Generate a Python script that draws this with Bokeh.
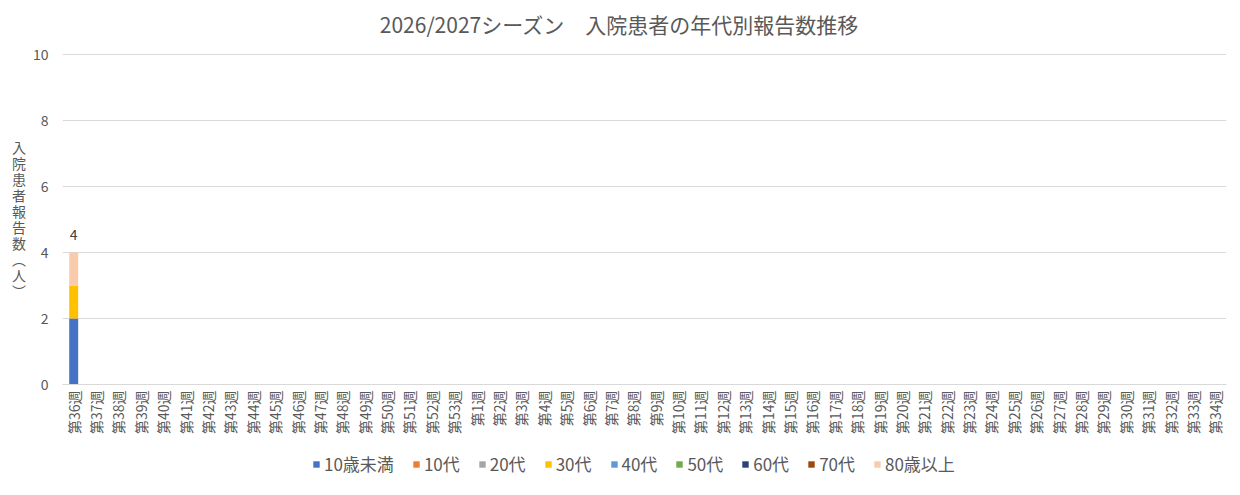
from bokeh.plotting import figure
from bokeh.models import ColumnDataSource, FactorRange, Legend, Label
from bokeh.layouts import column
from bokeh.embed import file_html
from bokeh.resources import INLINE
from bokeh.core.properties import value

weeks = ["第36週", "第37週", "第38週", "第39週", "第40週", "第41週", "第42週", "第43週",
         "第44週", "第45週", "第46週", "第47週", "第48週", "第49週", "第50週", "第51週",
         "第52週", "第53週", "第1週", "第2週", "第3週", "第4週", "第5週", "第6週", "第7週",
         "第8週", "第9週", "第10週", "第11週", "第12週", "第13週", "第14週", "第15週",
         "第16週", "第17週", "第18週", "第19週", "第20週", "第21週", "第22週", "第23週",
         "第24週", "第25週", "第26週", "第27週", "第28週", "第29週", "第30週", "第31週",
         "第32週", "第33週", "第34週"]

age_groups = ["10歳未満", "10代", "20代", "30代", "40代", "50代", "60代", "70代", "80歳以上"]

under10 = [2, 0, 0, 0, 0, 0, 0, 0, 0, 0, 0, 0, 0, 0, 0, 0, 0, 0, 0, 0, 0, 0, 0, 0, 0, 0,
           0, 0, 0, 0, 0, 0, 0, 0, 0, 0, 0, 0, 0, 0, 0, 0, 0, 0, 0, 0, 0, 0, 0, 0, 0, 0]
age10s = [0, 0, 0, 0, 0, 0, 0, 0, 0, 0, 0, 0, 0, 0, 0, 0, 0, 0, 0, 0, 0, 0, 0, 0, 0, 0,
          0, 0, 0, 0, 0, 0, 0, 0, 0, 0, 0, 0, 0, 0, 0, 0, 0, 0, 0, 0, 0, 0, 0, 0, 0, 0]
age20s = [0, 0, 0, 0, 0, 0, 0, 0, 0, 0, 0, 0, 0, 0, 0, 0, 0, 0, 0, 0, 0, 0, 0, 0, 0, 0,
          0, 0, 0, 0, 0, 0, 0, 0, 0, 0, 0, 0, 0, 0, 0, 0, 0, 0, 0, 0, 0, 0, 0, 0, 0, 0]
age30s = [1, 0, 0, 0, 0, 0, 0, 0, 0, 0, 0, 0, 0, 0, 0, 0, 0, 0, 0, 0, 0, 0, 0, 0, 0, 0,
          0, 0, 0, 0, 0, 0, 0, 0, 0, 0, 0, 0, 0, 0, 0, 0, 0, 0, 0, 0, 0, 0, 0, 0, 0, 0]
age40s = [0, 0, 0, 0, 0, 0, 0, 0, 0, 0, 0, 0, 0, 0, 0, 0, 0, 0, 0, 0, 0, 0, 0, 0, 0, 0,
          0, 0, 0, 0, 0, 0, 0, 0, 0, 0, 0, 0, 0, 0, 0, 0, 0, 0, 0, 0, 0, 0, 0, 0, 0, 0]
age50s = [0, 0, 0, 0, 0, 0, 0, 0, 0, 0, 0, 0, 0, 0, 0, 0, 0, 0, 0, 0, 0, 0, 0, 0, 0, 0,
          0, 0, 0, 0, 0, 0, 0, 0, 0, 0, 0, 0, 0, 0, 0, 0, 0, 0, 0, 0, 0, 0, 0, 0, 0, 0]
age60s = [0, 0, 0, 0, 0, 0, 0, 0, 0, 0, 0, 0, 0, 0, 0, 0, 0, 0, 0, 0, 0, 0, 0, 0, 0, 0,
          0, 0, 0, 0, 0, 0, 0, 0, 0, 0, 0, 0, 0, 0, 0, 0, 0, 0, 0, 0, 0, 0, 0, 0, 0, 0]
age70s = [0, 0, 0, 0, 0, 0, 0, 0, 0, 0, 0, 0, 0, 0, 0, 0, 0, 0, 0, 0, 0, 0, 0, 0, 0, 0,
          0, 0, 0, 0, 0, 0, 0, 0, 0, 0, 0, 0, 0, 0, 0, 0, 0, 0, 0, 0, 0, 0, 0, 0, 0, 0]
over80 = [1, 0, 0, 0, 0, 0, 0, 0, 0, 0, 0, 0, 0, 0, 0, 0, 0, 0, 0, 0, 0, 0, 0, 0, 0, 0,
          0, 0, 0, 0, 0, 0, 0, 0, 0, 0, 0, 0, 0, 0, 0, 0, 0, 0, 0, 0, 0, 0, 0, 0, 0, 0]

y_ticks = [0, 2, 4, 6, 8, 10]
chart_title = "2026/2027シーズン　入院患者の年代別報告数推移"
y_title = "入院患者報告数（人）"

colors = ["#4472C4", "#ED7D31", "#A5A5A5", "#FFC000", "#5B9BD5",
          "#70AD47", "#264478", "#9E480E", "#F8CBAD"]

series = [under10, age10s, age20s, age30s, age40s, age50s, age60s, age70s, over80]
keys = ["s%d" % i for i in range(len(series))]

data = {"week": weeks}
for k, s in zip(keys, series):
    data[k] = s
totals = [sum(vals) for vals in zip(*series)]
data["total"] = totals
data["total_label"] = [str(t) if t > 0 else "" for t in totals]
source = ColumnDataSource(data)

FONT = "Noto Sans CJK JP"
GRAY = "#595959"
W = 1232
TH = 44
FL, FR = 62, 1226   # frame left / right (frames are aligned in the column)

# title strip
tf = figure(width=W, height=TH, output_backend="svg", toolbar_location=None,
            x_range=(FL, FR), y_range=(0, TH), min_border=0,
            x_axis_location=None, y_axis_location=None)
tf.grid.visible = False
tf.outline_line_color = None
tf.add_layout(Label(x=619, y=TH - 23, text=chart_title, text_font=FONT,
                    text_font_size="21px", text_color=GRAY,
                    text_align="center", text_baseline="middle"))

# main chart
p = figure(x_range=FactorRange(*weeks), y_range=(0, 10.03),
           width=W, height=446 - TH, output_backend="svg", toolbar_location=None,
           min_border_left=FL, min_border_right=W - FR, min_border_top=53 - TH,
           min_border_bottom=62)

renderers = p.vbar_stack(keys, x="week", width=0.4, color=colors, source=source,
                         line_color=None)

p.text(x="week", y="total", text="total_label", source=source,
       text_font=value(FONT), text_font_size="14px", text_color="#404040",
       text_align="center", text_baseline="bottom", y_offset=-12)

p.outline_line_color = None
p.xgrid.grid_line_color = None
p.ygrid.grid_line_color = "#D9D9D9"
p.ygrid.grid_line_width = 1

p.yaxis.ticker = y_ticks
p.yaxis.axis_line_color = None
p.yaxis.major_tick_line_color = None
p.yaxis.minor_tick_line_color = None
p.yaxis.major_label_text_font = FONT
p.yaxis.major_label_text_font_size = "14px"
p.yaxis.major_label_text_color = GRAY
p.yaxis.major_label_standoff = 8

yax = p.yaxis[0]
if "axis_label_orientation" in yax.properties():
    yax.axis_label = "\n".join(list(y_title.replace("（", "︵").replace("）", "︶")))
    yax.axis_label_orientation = "horizontal"
else:
    yax.axis_label = y_title
yax.axis_label_text_font = FONT
yax.axis_label_text_font_size = "14px"
yax.axis_label_text_font_style = "normal"
yax.axis_label_text_color = GRAY
yax.axis_label_text_line_height = 0.8
yax.axis_label_standoff = 4

p.xaxis.axis_line_color = "#D9D9D9"
p.xaxis.major_tick_line_color = None
p.xaxis.minor_tick_line_color = None
p.xaxis.major_label_orientation = 1.5708
p.xaxis.major_label_text_font = FONT
p.xaxis.major_label_text_font_size = "14px"
p.xaxis.major_label_text_color = GRAY
p.xaxis.major_label_standoff = 0

# legend strip below the chart
lf = figure(width=W, height=40, output_backend="svg", toolbar_location=None,
            x_range=(0, 1), y_range=(0, 1), min_border=0,
            x_axis_location=None, y_axis_location=None)
lf.grid.visible = False
lf.outline_line_color = None
dummy = ColumnDataSource(dict(x=[-10], top=[-10]))
leg_renderers = [lf.vbar(x="x", top="top", width=0.1, source=dummy, color=c, line_color=None)
                 for c in colors]
legend = Legend(items=[(g, [r]) for g, r in zip(age_groups, leg_renderers)],
                orientation="horizontal", location=(312 - FL, 10))
legend.label_text_font = FONT
legend.label_text_font_size = "17px"
legend.label_text_color = GRAY
legend.glyph_width = 8
legend.glyph_height = 8
legend.label_standoff = 4
legend.spacing = 18
legend.border_line_color = None
legend.background_fill_alpha = 0
legend.padding = 0
legend.margin = 0
lf.add_layout(legend, "center")

layout = column(tf, p, lf, spacing=0)
open("out.html", "w").write(file_html(layout, INLINE))
